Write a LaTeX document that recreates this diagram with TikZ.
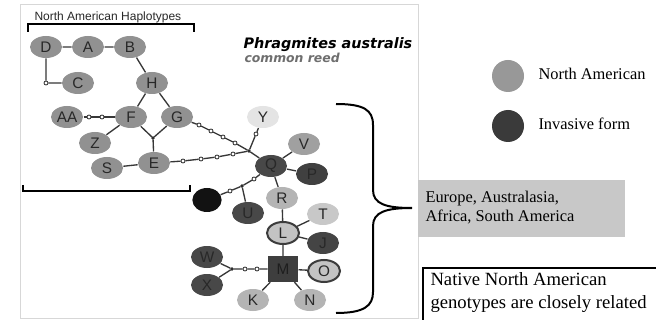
\documentclass[tikz,border=0pt]{standalone}
\usepackage{fontspec}
\setmainfont{Liberation Serif}
\setsansfont{Liberation Sans}
\newfontfamily\titlefont{DejaVu Sans}
\usetikzlibrary{shapes.geometric}

\tikzset{every picture/.style={line width=0.75pt}}

\begin{document}
\begin{tikzpicture}[x=0.75pt,y=0.75pt,yscale=-1,xscale=1,
  hap/.style={ellipse,draw=none,minimum width=24pt,minimum height=16.5pt,inner sep=0pt,
    font=\sffamily\fontsize{11.5}{11.5}\selectfont,text={rgb,255:red,40;green,40;blue,40}},
  native/.style={hap,fill={rgb,255:red,145;green,145;blue,145}},
  dark/.style={hap,fill={rgb,255:red,72;green,72;blue,72}},
  pale/.style={hap,fill={rgb,255:red,180;green,180;blue,180}},
  ringed/.style={hap,fill={rgb,255:red,195;green,195;blue,195},draw={rgb,255:red,60;green,60;blue,60},line width=1.5pt},
  stepdot/.style={circle,draw={rgb,255:red,40;green,40;blue,40},fill=white,line width=0.6pt,inner sep=0pt,minimum size=3pt},
  joint/.style={stepdot,minimum size=2pt,fill={rgb,255:red,40;green,40;blue,40}},
  link/.style={draw={rgb,255:red,55;green,55;blue,55},line width=1pt},
  legtext/.style={anchor=base west,inner sep=0pt,font=\fontsize{12.3}{14}\selectfont}
]
%set diagram size and clip to it
\clip (0,0) rectangle (656,320);
\fill[white] (0,0) rectangle (656,320);

%Shape: Rectangle [panel border]
\draw [draw={rgb,255:red,215;green,215;blue,215},line width=0.75pt] (20,5) rectangle (418,318);

% Text Node
\node [anchor=base west,inner sep=0pt,font=\sffamily\fontsize{9}{9}\selectfont,text={rgb,255:red,40;green,40;blue,40}] (natitle) at (34,21) {North American Haplotypes};
%Straight Lines [top bracket]
\draw [line width=1.5pt] (28,32) -- (28,24) -- (194,24) -- (194,32) ;
%Straight Lines [bottom bracket]
\draw [line width=1.5pt] (23,185) -- (23,191) -- (190,191) -- (190,185) ;

% Text Node
\node [anchor=base west,inner sep=0pt,font=\titlefont\bfseries\itshape\fontsize{10.8}{11}\selectfont] (species) at (243,49) {Phragmites australis};
\node [anchor=base west,inner sep=0pt,font=\titlefont\bfseries\itshape\fontsize{9.3}{10}\selectfont,text={rgb,255:red,110;green,110;blue,110}] (common) at (244,63) {common reed};

%Shape: Ellipse [haplotypes]
\node [native] (D) at (46,47) {D};
\node [native] (A) at (88,47) {A};
\node [native] (B) at (130,47) {B};
\node [native] (C) at (78,83) {C};
\node [native] (H) at (152,83) {H};
\node [native] (AA) at (67,117) {AA};
\node [native] (F) at (131,117) {F};
\node [native] (G) at (177,117) {G};
\node [native] (Z) at (95,143) {Z};
\node [native] (E) at (154,163) {E};
\node [native] (S) at (107,168) {S};
\node [hap,fill={rgb,255:red,228;green,228;blue,228}] (Y) at (263,117) {Y};
\node [hap,fill={rgb,255:red,160;green,160;blue,160}] (V) at (304,144) {V};
\node [dark] (Q) at (271,166) {Q};
\node [dark,fill={rgb,255:red,64;green,64;blue,64}] (P) at (312,174) {P};
\node [hap,fill={rgb,255:red,18;green,18;blue,18},minimum width=22pt,minimum height=18pt] (blk) at (207,200) {};
\node [dark] (U) at (248,213) {U};
\node [pale] (R) at (282,198) {R};
\node [ringed] (L) at (283,233) {L};
\node [pale,fill={rgb,255:red,200;green,200;blue,200}] (T) at (323,214) {T};
\node [dark,fill={rgb,255:red,68;green,68;blue,68}] (J) at (323,243) {J};
\node [rectangle,fill={rgb,255:red,62;green,62;blue,62},minimum width=22.5pt,minimum height=19pt,inner sep=0pt,font=\sffamily\fontsize{11.5}{11.5}\selectfont,text={rgb,255:red,30;green,30;blue,30}] (M) at (283,269) {M};
\node [ringed] (O) at (324,271) {O};
\node [dark] (W) at (207,257) {W};
\node [dark] (X) at (207,285) {X};
\node [pale] (K) at (253,300) {K};
\node [pale] (N) at (310,300) {N};

%Shape: Circle [mutation steps]
\node [stepdot] (dc) at (46,83) {};
\node [stepdot] (aa1) at (89,117) {};
\node [stepdot] (aa2) at (102,117) {};
\node [joint] (fg) at (153,138) {};
\node [stepdot] (g1) at (199,125) {};
\node [stepdot] (g2) at (211,131) {};
\node [stepdot] (g3) at (223,137) {};
\node [stepdot] (g4) at (235,143) {};
\node [stepdot] (e1) at (183,161) {};
\node [stepdot] (e2) at (201,159) {};
\node [stepdot] (e3) at (217,157) {};
\node [stepdot] (e4) at (233,154) {};
\node [joint] (hub) at (249,151) {};
\node [stepdot] (y1) at (256,134) {};
\node [stepdot] (b1) at (230,191) {};
\node [joint] (bu) at (242,186) {};
\node [stepdot] (b2) at (254,179) {};
\node [joint] (wx) at (232,269) {};
\node [stepdot] (m1) at (245,269) {};
\node [stepdot] (m2) at (257,269) {};

%Straight Lines [network]
\path [link] (D) -- (A) (A) -- (B) (B) -- (H) (D) -- (dc) -- (C);
\path [link] (H) -- (F) (H) -- (G) (F) -- (Z) (F) -- (fg) (G) -- (fg) (fg) -- (E) (S) -- (E);
\path [link] (AA) -- (aa1) -- (aa2) -- (F);
\path [link] (G) -- (g1) -- (g2) -- (g3) -- (g4) -- (hub);
\path [link] (E) -- (e1) -- (e2) -- (e3) -- (e4) -- (hub);
\path [link] (hub) -- (y1) -- (Y) (hub) -- (Q);
\path [link] (Q) -- (V) (Q) -- (P) (Q) -- (R) (R) -- (L) (L) -- (T) (L) -- (J) (L) -- (M);
\path [link] (blk) -- (b1) -- (bu) -- (b2) -- (Q) (bu) -- (U);
\path [link] (M) -- (O) (M) -- (K) (M) -- (N) (M) -- (m2) -- (m1) -- (wx) (wx) -- (W) (wx) -- (X);

%Curve Lines [brace]
\draw [line width=1.5pt] (336,104) .. controls (364,104) and (373,110) .. (373,125) -- (373,190) .. controls (373,204) and (386,208) .. (412,208) .. controls (386,208) and (373,212) .. (373,226) -- (373,292) .. controls (373,306) and (364,313) .. (336,313) ;

%Shape: Circle [legend]
\node [circle,fill={rgb,255:red,152;green,152;blue,152},minimum size=24pt,inner sep=0pt] (keyna) at (508,76) {};
\node [circle,fill={rgb,255:red,58;green,58;blue,58},minimum size=24pt,inner sep=0pt] (keyinv) at (508,126) {};
% Text Node
\node [legtext] (keynatext) at (538,80) {North American};
\node [legtext] (keyinvtext) at (538,130) {Invasive form};

%Shape: Rectangle [regions box]
\fill [fill={rgb,255:red,200;green,200;blue,200}] (418,180) rectangle (625,237) ;
\node [legtext] (region1) at (425,203) {Europe, Australasia,};
\node [legtext] (region2) at (425,222) {Africa, South America};

%Shape: Rectangle [note box]
\draw [line width=1.5pt] (423,268) rectangle (680,340) ;
\node [legtext,font=\fontsize{14}{16}\selectfont] (note1) at (430,285) {Native North American};
\node [legtext,font=\fontsize{14}{16}\selectfont] (note2) at (430,308) {genotypes are closely related};
\end{tikzpicture}
\end{document}
